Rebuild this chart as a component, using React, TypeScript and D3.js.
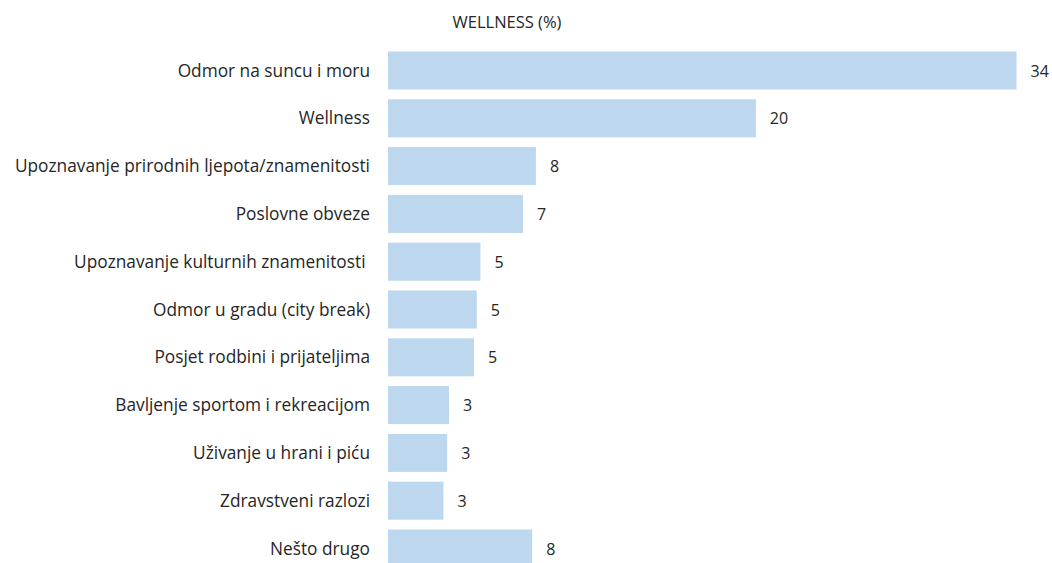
import React from 'react';
import { scaleBand, scaleLinear } from 'd3';

const categories = [
  'Odmor na suncu i moru',
  'Wellness',
  'Upoznavanje prirodnih ljepota/znamenitosti',
  'Poslovne obveze',
  'Upoznavanje kulturnih znamenitosti ',
  'Odmor u gradu (city break)',
  'Posjet rodbini i prijateljima',
  'Bavljenje sportom i rekreacijom',
  'Uživanje u hrani i piću',
  'Zdravstveni razlozi',
  'Nešto drugo',
];

// bar lengths; labels are the rounded numbers shown
const values = [34.0, 19.9, 8.0, 7.3, 5.0, 4.8, 4.65, 3.3, 3.2, 3.0, 7.8];
const labels = ['34', '20', '8', '7', '5', '5', '5', '3', '3', '3', '8'];

const W = 1052;
const H = 563;
const FONT = "'Open Sans', sans-serif";

const App = () => {
  const margin = { top: 51.5, left: 388 };

  const x = scaleLinear().domain([0, 34]).range([margin.left, 1016.5]);

  const y = scaleBand<string>()
    .domain(categories)
    .range([margin.top - 4.9, margin.top - 4.9 + 47.8 * categories.length])
    .paddingInner(0.205)
    .paddingOuter(0.1025);

  return (
    <svg
      width={W}
      height={H}
      style={{ position: 'absolute', left: 0, top: 0, background: '#fff' }}
      fontFamily={FONT}
    >
      <text x={507} y={28} textAnchor="middle" fontSize={16.5} fill="#262626">
        WELLNESS (%)
      </text>
      {categories.map((c, i) => {
        const yy = y(c) as number;
        const bh = y.bandwidth();
        return (
          <g key={c}>
            <rect
              x={x(0)}
              y={yy}
              width={x(values[i]) - x(0)}
              height={bh}
              fill="#BDD7EE"
            />
            <text
              x={x(0) - 18}
              y={yy + bh / 2}
              dy="0.35em"
              textAnchor="end"
              fontSize={17.3}
              fill="#262626"
              xmlSpace="preserve"
            >
              {c}
            </text>
            <text
              x={x(values[i]) + 14}
              y={yy + bh / 2}
              dy="0.38em"
              fontSize={16}
              fill="#262626"
            >
              {labels[i]}
            </text>
          </g>
        );
      })}
    </svg>
  );
};

export default App;
